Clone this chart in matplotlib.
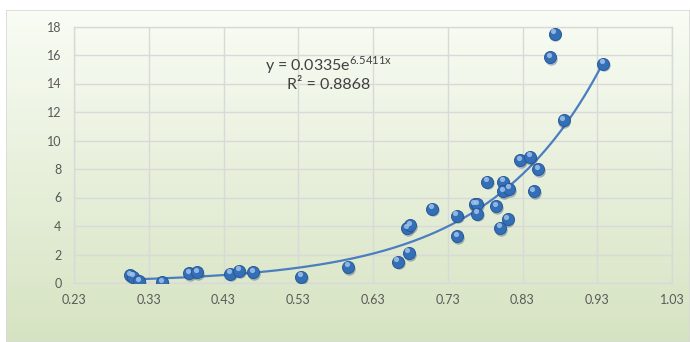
import numpy as np
import matplotlib
matplotlib.use("Agg")
import matplotlib.pyplot as plt
import matplotlib.transforms as mtransforms
from matplotlib.patches import Rectangle

plt.rcParams["font.family"] = ["Lato", "DejaVu Sans"]
plt.rcParams["mathtext.fontset"] = "custom"
plt.rcParams["mathtext.rm"] = "Lato"

# data
x_vals = [0.305, 0.309, 0.317, 0.348, 0.384, 0.395, 0.439, 0.451, 0.470, 0.534,
          0.597, 0.663, 0.678, 0.676, 0.680, 0.709, 0.742, 0.743, 0.766, 0.769,
          0.769, 0.783, 0.795, 0.800, 0.804, 0.804, 0.812, 0.810, 0.827, 0.840,
          0.845, 0.851, 0.867, 0.873, 0.885, 0.938]
y_vals = [0.56, 0.45, 0.12, 0.05, 0.70, 0.77, 0.66, 0.87, 0.75, 0.45,
          1.13, 1.50, 2.11, 3.85, 4.06, 5.21, 4.72, 3.29, 5.51, 5.54,
          4.86, 7.11, 5.40, 3.87, 7.11, 6.43, 6.60, 4.49, 8.61, 8.85,
          6.43, 7.98, 15.85, 17.5, 11.41, 15.4]
fit_a = 0.0335
fit_b = 6.5411
x_ticks = [0.23, 0.33, 0.43, 0.53, 0.63, 0.73, 0.83, 0.93, 1.03]
y_ticks = [0, 2, 4, 6, 8, 10, 12, 14, 16, 18]

W, H = 690, 342
fig = plt.figure(figsize=(W / 100, H / 100), dpi=100)
fig.patch.set_facecolor("white")

# chart area with soft green gradient
bg = fig.add_axes([6 / W, 0, 1 - 6 / W, 1 - 10 / H])
bg.set_zorder(-5)
top = np.array([0.975, 0.99, 0.96])
bottom = np.array([0.84, 0.89, 0.76])
t = np.linspace(0, 1, 256)[:, None]
grad = top[None, :] * (1 - t) + bottom[None, :] * t
bg.imshow(grad[:, None, :].repeat(4, axis=1), aspect="auto", extent=[0, 1, 0, 1])
bg.add_patch(Rectangle((0, 0), 1, 1, transform=bg.transAxes, fill=False,
                       edgecolor="#d9d9d9", lw=1.2))
bg.set_axis_off()

ax = fig.add_axes([74 / W, 1 - 283 / H, (672 - 74) / W, (283 - 26.5) / H])
ax.set_facecolor("none")
ax.set_xlim(0.23, 1.03)
ax.set_ylim(0, 18)
ax.set_xticks(x_ticks)
ax.set_xticklabels([f"{v:.2f}" for v in x_ticks])
ax.set_yticks(y_ticks)
ax.tick_params(length=0, labelsize=9, labelcolor="#595959")
ax.tick_params(axis="x", pad=8)
ax.tick_params(axis="y", pad=9)
ax.grid(True, color="#d9d9d9", lw=1.0)
for s in ax.spines.values():
    s.set_color("#d9d9d9")
    s.set_linewidth(1.0)

# exponential trendline
xs = np.linspace(min(x_vals), max(x_vals), 200)
ax.plot(xs, fit_a * np.exp(fit_b * xs), color="#4a7ebf", lw=1.6, zorder=3)

# points with a little shading
shadow = ax.transData + mtransforms.ScaledTranslation(0.6 / 72, -1.2 / 72, fig.dpi_scale_trans)
ax.scatter(x_vals, y_vals, s=80, color="#1c3f6e", alpha=0.35, lw=0, transform=shadow, zorder=3)
ax.scatter(x_vals, y_vals, s=76, color="#336fb6", edgecolor="#24548f", lw=0.6, zorder=4)
shine = ax.transData + mtransforms.ScaledTranslation(-1.0 / 72, 1.8 / 72, fig.dpi_scale_trans)
ax.scatter(x_vals, y_vals, s=14, color="#a9c8ee", alpha=0.8, lw=0, transform=shine, zorder=5)

ax.text(0.571, 14.88, r"y = 0.0335e$^{\mathregular{6.5411x}}$", ha="center", va="baseline",
        fontsize=11.5, color="#404040")
ax.text(0.571, 13.59, "R² = 0.8868", ha="center", va="baseline",
        fontsize=11.5, color="#404040")

fig.savefig("out.png", dpi=100)
